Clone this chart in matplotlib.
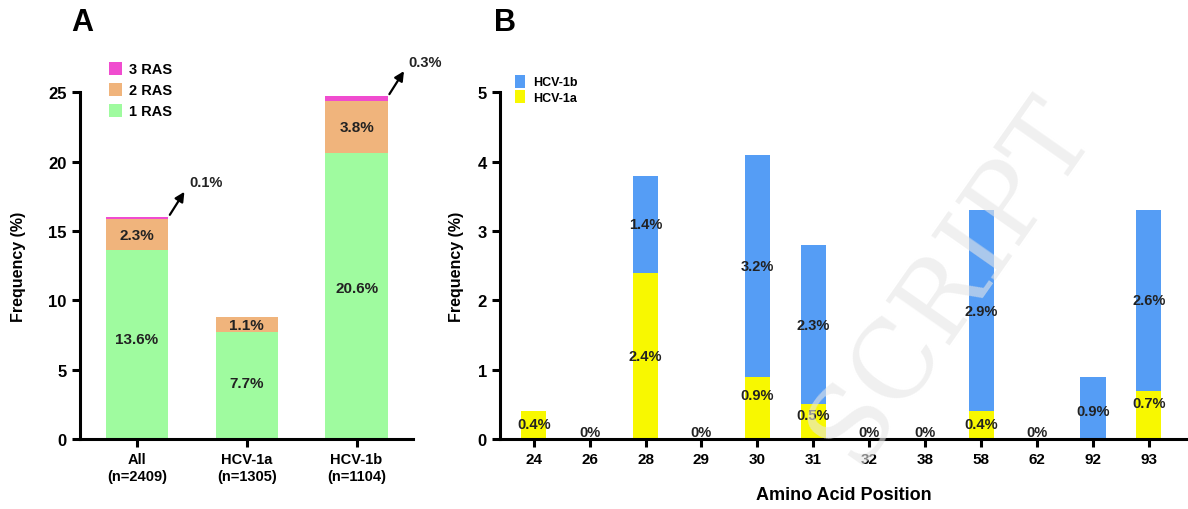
import matplotlib.pyplot as plt
import numpy as np

plt.rcParams['font.family'] = ['Liberation Sans', 'DejaVu Sans']
plt.rcParams['font.weight'] = 'bold'

# panel A data
groups = ['All\n(n=2409)', 'HCV-1a\n(n=1305)', 'HCV-1b\n(n=1104)']
ras1 = [13.6, 7.7, 20.6]
ras2 = [2.3, 1.1, 3.8]
ras3 = [0.1, 0.0, 0.3]

# panel B data
positions = ['24', '26', '28', '29', '30', '31', '32', '38', '58', '62', '92', '93']
hcv1a = [0.4, 0, 2.4, 0, 0.9, 0.5, 0, 0, 0.4, 0, 0, 0.7]
hcv1b = [0, 0, 1.4, 0, 3.2, 2.3, 0, 0, 2.9, 0, 0.9, 2.6]

green = '#9ffb9f'
orange = '#f0b47c'
magenta = '#f04ccf'
blue = '#559df5'
yellow = '#f8f800'
txt = '#222222'

fig = plt.figure(figsize=(11.88, 5.1), dpi=100)
axA = fig.add_axes([0.0673, 0.137, 0.280, 0.680])
axB = fig.add_axes([0.421, 0.137, 0.579, 0.680])

def style(ax):
    for s in ['top', 'right']:
        ax.spines[s].set_visible(False)
    for s in ['left', 'bottom']:
        ax.spines[s].set_linewidth(2.2)
    ax.tick_params(width=2.2, length=6, direction='out')

# ---- A ----
x = np.arange(len(groups))
w = 0.57
b1 = axA.bar(x, ras1, w, color=green, label='1 RAS')
b2 = axA.bar(x, ras2, w, bottom=ras1, color=orange, label='2 RAS')
bot3 = np.array(ras1) + np.array(ras2)
b3 = axA.bar(x, ras3, w, bottom=bot3, color=magenta, label='3 RAS')

for i in range(len(groups)):
    axA.text(x[i], ras1[i] * 0.53, f'{ras1[i]}%',
             ha='center', va='center', fontsize=11, color=txt, fontweight='bold')
    axA.text(x[i], ras1[i] + ras2[i] / 2, f'{ras2[i]}%', ha='center', va='center',
             fontsize=11, color=txt, fontweight='bold')
    if ras3[i] > 0:
        top = bot3[i] + ras3[i]
        axA.annotate('', xy=(x[i] + w / 2 + 0.16, top + 2.0), xytext=(x[i] + w / 2, top),
                     annotation_clip=False,
                     arrowprops=dict(arrowstyle='-|>', color='black', lw=1.6, mutation_scale=14))
        axA.text(x[i] + w / 2 + 0.19, top + 2.5, f'{ras3[i]}%', fontsize=10.5,
                 ha='left', va='center', color=txt, clip_on=False)

axA.set_xlim(-0.52, 2.51)
axA.set_ylim(0, 25)
axA.set_yticks([0, 5, 10, 15, 20, 25])
axA.set_xticks(x)
axA.set_xticklabels(groups, fontsize=10.5)
axA.tick_params(axis='y', labelsize=12)
axA.set_ylabel('Frequency (%)', fontsize=11.5, fontweight='bold', labelpad=16)
style(axA)
axA.legend(handles=[b3, b2, b1], loc='upper left', bbox_to_anchor=(0.07, 1.105),
           frameon=False, fontsize=10.5, handlelength=0.9, handleheight=1.0,
           handletextpad=0.5, labelspacing=0.45, borderaxespad=0)

# ---- B ----
xb = np.arange(len(positions))
wb = 0.45
ba = axB.bar(xb, hcv1a, wb, color=yellow, label='HCV-1a')
bb = axB.bar(xb, hcv1b, wb, bottom=hcv1a, color=blue, label='HCV-1b')
for i in range(len(positions)):
    if hcv1a[i] == 0 and hcv1b[i] == 0:
        axB.text(xb[i], 0.1, '0%', ha='center', va='center', fontsize=10.5, color=txt)
        continue
    if hcv1a[i] > 0:
        ya = hcv1a[i] / 2 if hcv1a[i] > 1 else 0.22
        if i == 4:
            ya = 0.63
        if i == 5:
            ya = 0.35
        if i == 11:
            ya = 0.52
        axB.text(xb[i], ya, f'{hcv1a[i]}%', ha='center', va='center', fontsize=10.5, color=txt)
    if hcv1b[i] > 0:
        yb = hcv1a[i] + hcv1b[i] / 2
        if i == 10:
            yb = 0.4
        axB.text(xb[i], yb, f'{hcv1b[i]}%', ha='center', va='center', fontsize=10.5, color=txt)

axB.set_xlim(-0.6, 11.7)
axB.set_ylim(0, 5)
axB.set_yticks([0, 1, 2, 3, 4, 5])
axB.set_xticks(xb)
axB.set_xticklabels(positions, fontsize=11)
axB.tick_params(axis='y', labelsize=12)
axB.set_ylabel('Frequency (%)', fontsize=11.5, fontweight='bold', labelpad=10)
axB.set_xlabel('Amino Acid Position', fontsize=13, fontweight='bold', labelpad=14)
style(axB)
axB.legend(handles=[bb, ba], loc='upper left', bbox_to_anchor=(0.015, 1.065),
           frameon=False, fontsize=9, handlelength=0.8, handleheight=1.2,
           handletextpad=0.6, labelspacing=0.15, borderaxespad=0)

# faint watermark
fig.text(0.80, 0.45, 'SCRIPT', fontsize=76, rotation=55, color='#e6e6e6',
         alpha=0.6, ha='center', va='center', family='DejaVu Serif', fontweight='normal', zorder=10)

fig.text(0.060, 0.955, 'A', fontsize=22, fontweight='bold', va='center')
fig.text(0.416, 0.955, 'B', fontsize=22, fontweight='bold', va='center')

fig.savefig('out.png', dpi=100)
